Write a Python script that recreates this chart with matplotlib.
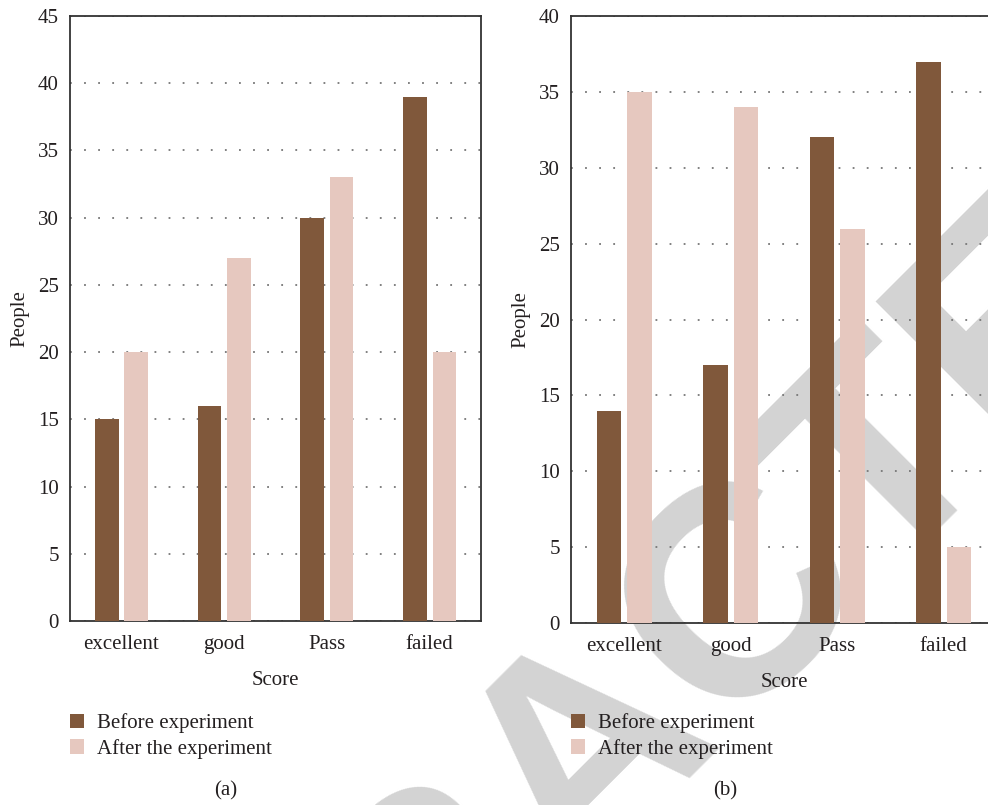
import matplotlib.pyplot as plt
import numpy as np

plt.rcParams['font.family'] = ['Liberation Serif', 'DejaVu Serif']
plt.rcParams['font.size'] = 15
plt.rcParams['text.color'] = '#231f20'
plt.rcParams['axes.labelcolor'] = '#231f20'
plt.rcParams['xtick.color'] = '#231f20'
plt.rcParams['ytick.color'] = '#231f20'

scores = ['excellent', 'good', 'Pass', 'failed']
before_a = [15, 16, 30, 39]
after_a = [20, 27, 33, 20]
before_b = [14, 17, 32, 37]
after_b = [35, 34, 26, 5]

dark = '#80583b'
light = '#e6c8bf'

fig = plt.figure(figsize=(9.88, 8.05), dpi=100)
fig.patch.set_facecolor('white')

# grey stamp across the sheet, kept underneath the axes contents
fig.text(0.596, 0.068, 'RETRACTED', fontsize=215, family='Liberation Sans',
         weight='bold', color='#d3d3d3', rotation=45, rotation_mode='anchor',
         ha='center', va='center', zorder=-1)

ax1 = fig.add_axes([0.0709, 0.2286, 0.416, 0.7516])
ax2 = fig.add_axes([0.578, 0.226, 0.431, 0.754])

x = np.arange(len(scores))
w = 0.23
off = 0.143


def draw(ax, before, after, top, cap, tag):
    ax.set_facecolor('none')
    ax.bar(x - off, before, w, color=dark, zorder=3, label='Before experiment')
    ax.bar(x + off, after, w, color=light, zorder=3, label='After the experiment')
    ax.set_xlim(-0.5, 3.5)
    ax.set_ylim(0, top)
    ax.set_yticks(np.arange(0, top + 1, 5))
    ax.set_xticks(x)
    ax.set_xticklabels(scores)
    ax.tick_params(length=0)
    ax.tick_params(axis='y', pad=8)
    ax.tick_params(axis='x', pad=10)
    ax.yaxis.grid(True, color='#767676', linewidth=1.3, linestyle=(0, (1, 6.8)), zorder=1)
    ax.set_axisbelow(True)
    for s in ax.spines.values():
        s.set_color('#333333')
        s.set_linewidth(1.3)
    ax.set_xlabel('Score', labelpad=12)
    ax.set_ylabel('People', labelpad=6)
    ax.legend(loc='upper left', bbox_to_anchor=(ax.get_position().x0, 0.114),
              bbox_transform=fig.transFigure, frameon=False, borderpad=0,
              borderaxespad=0, handlelength=0.65, handleheight=0.68,
              handletextpad=0.62, labelspacing=0.28)
    fig.text(cap, 0.017, tag, ha='center', va='center')


draw(ax1, before_a, after_a, 45, 226 / 988, '(a)')
draw(ax2, before_b, after_b, 40, 725 / 988, '(b)')

fig.savefig('out.png', dpi=100, facecolor='white')
